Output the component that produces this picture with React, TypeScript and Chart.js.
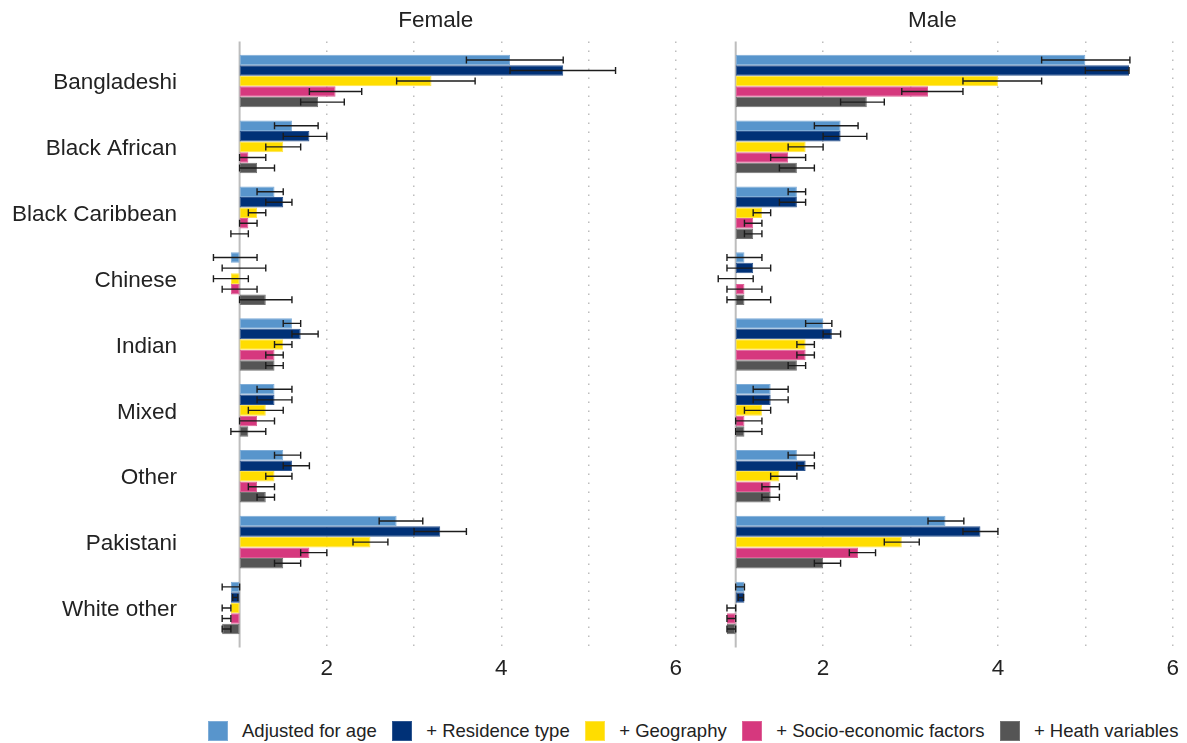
import React, { useEffect, useRef } from 'react';
import { Chart, registerables } from 'chart.js';

Chart.register(...registerables);

const FONT = '"Liberation Sans", Arial, Helvetica, sans-serif';

const CATEGORIES = ['Bangladeshi', 'Black African', 'Black Caribbean', 'Chinese', 'Indian', 'Mixed', 'Other', 'Pakistani', 'White other'];
const SERIES_NAMES = ['Adjusted for age', '+ Residence type', '+ Geography', '+ Socio-economic factors', '+ Heath variables'];
const X_TICKS = [1, 2, 3, 4, 5, 6];
const X_LABELLED = [2, 4, 6];
const PANEL_TITLES = ['Female', 'Male'];

// Female
const F_AGE = [4.1, 1.6, 1.4, 0.9, 1.6, 1.4, 1.5, 2.8, 0.9];
const F_AGE_CI = [[3.6, 4.71], [1.4, 1.9], [1.2, 1.5], [0.7, 1.2], [1.5, 1.7], [1.2, 1.6], [1.4, 1.7], [2.6, 3.1], [0.8, 1.0]];
const F_RES = [4.71, 1.8, 1.5, 1.0, 1.7, 1.4, 1.6, 3.3, 0.9];
const F_RES_CI = [[4.1, 5.31], [1.5, 2.0], [1.3, 1.6], [0.8, 1.3], [1.6, 1.9], [1.2, 1.6], [1.5, 1.8], [3.0, 3.6], [0.92, 0.98]];
const F_GEO = [3.2, 1.5, 1.2, 0.9, 1.5, 1.3, 1.4, 2.5, 0.9];
const F_GEO_CI = [[2.8, 3.7], [1.3, 1.7], [1.1, 1.3], [0.7, 1.1], [1.4, 1.6], [1.1, 1.5], [1.3, 1.6], [2.3, 2.7], [0.8, 0.9]];
const F_SOC = [2.1, 1.1, 1.1, 0.9, 1.4, 1.2, 1.2, 1.8, 0.9];
const F_SOC_CI = [[1.8, 2.4], [1.0, 1.3], [1.0, 1.2], [0.8, 1.2], [1.3, 1.5], [1.0, 1.4], [1.1, 1.4], [1.7, 2.0], [0.8, 0.9]];
const F_HEA = [1.9, 1.2, 1.0, 1.3, 1.4, 1.1, 1.3, 1.5, 0.8];
const F_HEA_CI = [[1.7, 2.2], [1.0, 1.4], [0.9, 1.1], [1.0, 1.6], [1.3, 1.5], [0.9, 1.3], [1.2, 1.4], [1.4, 1.7], [0.8, 0.9]];

// Male
const M_AGE = [5.0, 2.2, 1.7, 1.1, 2.0, 1.4, 1.7, 3.4, 1.1];
const M_AGE_CI = [[4.5, 5.51], [1.9, 2.4], [1.6, 1.8], [0.9, 1.3], [1.8, 2.1], [1.2, 1.6], [1.6, 1.9], [3.2, 3.61], [1.0, 1.1]];
const M_RES = [5.5, 2.2, 1.7, 1.2, 2.1, 1.4, 1.8, 3.8, 1.1];
const M_RES_CI = [[5.0, 5.5], [2.0, 2.5], [1.5, 1.8], [0.9, 1.4], [2.0, 2.2], [1.2, 1.6], [1.7, 1.9], [3.6, 4.0], [1.03, 1.09]];
const M_GEO = [4.0, 1.8, 1.3, 1.0, 1.8, 1.3, 1.5, 2.9, 1.0];
const M_GEO_CI = [[3.6, 4.5], [1.6, 2.0], [1.2, 1.4], [0.8, 1.2], [1.7, 1.9], [1.1, 1.4], [1.4, 1.7], [2.7, 3.1], [0.9, 1.0]];
const M_SOC = [3.2, 1.6, 1.2, 1.1, 1.8, 1.1, 1.4, 2.4, 0.9];
const M_SOC_CI = [[2.9, 3.6], [1.4, 1.8], [1.1, 1.3], [0.9, 1.3], [1.7, 1.9], [1.0, 1.3], [1.3, 1.5], [2.3, 2.6], [0.9, 1.0]];
const M_HEA = [2.5, 1.7, 1.2, 1.1, 1.7, 1.1, 1.4, 2.0, 0.9];
const M_HEA_CI = [[2.2, 2.7], [1.5, 1.9], [1.1, 1.3], [0.9, 1.4], [1.6, 1.8], [1.0, 1.3], [1.3, 1.5], [1.9, 2.2], [0.9, 1.0]];

const BASELINE = 1;
const Y_MIN = -0.6;
const Y_MAX = CATEGORIES.length - 1 + 0.6;
const COLORS = ['#5895CC', '#003177', '#FFDD00', '#D6387E', '#555555'];
const BORDERS = ['#7FADD8', '#2E5690', '#FFE44A', '#DE6196', '#747474'];

const errorBarPlugin = {
  id: 'errorBars',
  afterDatasetsDraw(chart: any) {
    const ctx = chart.ctx;
    const xs = chart.scales.x;
    ctx.save();
    ctx.strokeStyle = '#1c1c1c';
    ctx.lineWidth = 1.4;
    chart.data.datasets.forEach((ds: any, d: number) => {
      const meta = chart.getDatasetMeta(d);
      meta.data.forEach((el: any, i: number) => {
        const ci = ds.ci[i];
        const x1 = xs.getPixelForValue(ci[0]);
        const x2 = xs.getPixelForValue(ci[1]);
        const y = el.y;
        const h = 3.5;
        ctx.beginPath();
        ctx.moveTo(x1, y);
        ctx.lineTo(x2, y);
        ctx.moveTo(x1, y - h);
        ctx.lineTo(x1, y + h);
        ctx.moveTo(x2, y - h);
        ctx.lineTo(x2, y + h);
        ctx.stroke();
      });
    });
    ctx.restore();
  },
};

const refLinePlugin = {
  id: 'refLine',
  beforeDatasetsDraw(chart: any) {
    const ctx = chart.ctx;
    const x = chart.scales.x.getPixelForValue(BASELINE);
    const { top, bottom } = chart.chartArea;
    ctx.save();
    ctx.strokeStyle = '#BDBDBD';
    ctx.lineWidth = 2;
    ctx.beginPath();
    ctx.moveTo(x, top);
    ctx.lineTo(x, bottom);
    ctx.stroke();
    ctx.restore();
  },
};

function buildConfig(title: string, values: number[][], cis: number[][][], showY: boolean, padRight: number, yWidth: number): any {
  const datasets = SERIES_NAMES.map((name, s) => ({
    label: name,
    data: values[s].map((v, i) => ({ x: [BASELINE, v], y: i })),
    ci: cis[s],
    backgroundColor: COLORS[s],
    borderColor: BORDERS[s],
    borderWidth: 1,
    borderSkipped: false,
    categoryPercentage: 0.8,
    barPercentage: 1,
  }));
  return {
    type: 'bar',
    data: { datasets },
    plugins: [refLinePlugin, errorBarPlugin],
    options: {
      indexAxis: 'y',
      animation: false,
      responsive: false,
      devicePixelRatio: 1,
      layout: { padding: { left: 0, right: padRight, top: 0, bottom: 0 } },
      plugins: {
        legend: { display: false },
        tooltip: { enabled: false },
        title: {
          display: true,
          text: title,
          fullSize: false,
          color: '#222222',
          font: { family: FONT, size: 22.5, weight: 'normal' },
          padding: { top: 7.5, bottom: 7 },
        },
      },
      scales: {
        x: {
          type: 'linear',
          min: 0.5,
          max: 6,
          bounds: 'data',
          offset: false,
          afterBuildTicks: (scale: any) => {
            scale.ticks = X_TICKS.map((v) => ({ value: v }));
            scale.min = 0.5;
            scale.max = 6;
          },
          afterFit: (scale: any) => {
            scale.height = 52.5;
          },
          ticks: {
            autoSkip: false,
            maxRotation: 0,
            padding: 8,
            color: '#222222',
            font: { family: FONT, size: 22.5 },
            callback: (v: any) => (X_LABELLED.includes(Number(v)) ? String(v) : ''),
          },
          grid: {
            drawTicks: false,
            offset: false,
            lineWidth: 1.5,
            color: (ctx: any) => (ctx.tick && ctx.tick.value === BASELINE ? 'rgba(0,0,0,0)' : '#BDBDBD'),
          },
          border: { display: false, dash: [1.5, 7.5] },
        },
        y: {
          type: 'linear',
          min: Y_MIN,
          max: Y_MAX,
          bounds: 'data',
          offset: false,
          reverse: true,
          afterBuildTicks: (scale: any) => {
            scale.ticks = CATEGORIES.map((_, i) => ({ value: i }));
            scale.min = Y_MIN;
            scale.max = Y_MAX;
          },
          afterFit: (scale: any) => {
            scale.width = yWidth;
          },
          ticks: {
            display: showY,
            autoSkip: false,
            padding: 19,
            labelOffset: 2,
            color: '#222222',
            font: { family: FONT, size: 22.5 },
            callback: (v: any) => CATEGORIES[Number(v)] ?? '',
          },
          grid: { display: false, drawTicks: false, offset: false },
          border: { display: false },
        },
      },
    },
  };
}

export default function App() {
  const femaleRef = useRef<HTMLCanvasElement | null>(null);
  const maleRef = useRef<HTMLCanvasElement | null>(null);

  useEffect(() => {
    const f = new Chart(
      femaleRef.current as HTMLCanvasElement,
      buildConfig(
        PANEL_TITLES[0],
        [F_AGE, F_RES, F_GEO, F_SOC, F_HEA],
        [F_AGE_CI, F_RES_CI, F_GEO_CI, F_SOC_CI, F_HEA_CI],
        true,
        12,
        196
      )
    );
    const m = new Chart(
      maleRef.current as HTMLCanvasElement,
      buildConfig(
        PANEL_TITLES[1],
        [M_AGE, M_RES, M_GEO, M_SOC, M_HEA],
        [M_AGE_CI, M_RES_CI, M_GEO_CI, M_SOC_CI, M_HEA_CI],
        false,
        13.5,
        2
      )
    );
    return () => {
      f.destroy();
      m.destroy();
    };
  }, []);

  return (
    <div style={{ position: 'absolute', left: 0, top: 0, width: 1187, height: 743, background: '#ffffff', fontFamily: FONT, overflow: 'hidden' }}>
      <canvas ref={femaleRef} width={690} height={700} style={{ position: 'absolute', left: 0, top: 0, width: 690, height: 700 }} />
      <canvas ref={maleRef} width={497} height={700} style={{ position: 'absolute', left: 690, top: 0, width: 497, height: 700 }} />
      <div style={{ position: 'absolute', left: 208, top: 721, height: 20, display: 'flex', alignItems: 'center', whiteSpace: 'nowrap' }}>
        {SERIES_NAMES.map((name, s) => (
          <div key={name} style={{ display: 'flex', alignItems: 'center' }}>
            <span style={{ display: 'inline-block', width: 20, height: 20, background: COLORS[s], boxShadow: `inset 0 0 0 1px ${BORDERS[s]}`, marginRight: 14 }} />
            <span style={{ fontSize: 18.5, lineHeight: '20px', color: '#222222', marginRight: 15.5 }}>{name}</span>
          </div>
        ))}
      </div>
    </div>
  );
}
